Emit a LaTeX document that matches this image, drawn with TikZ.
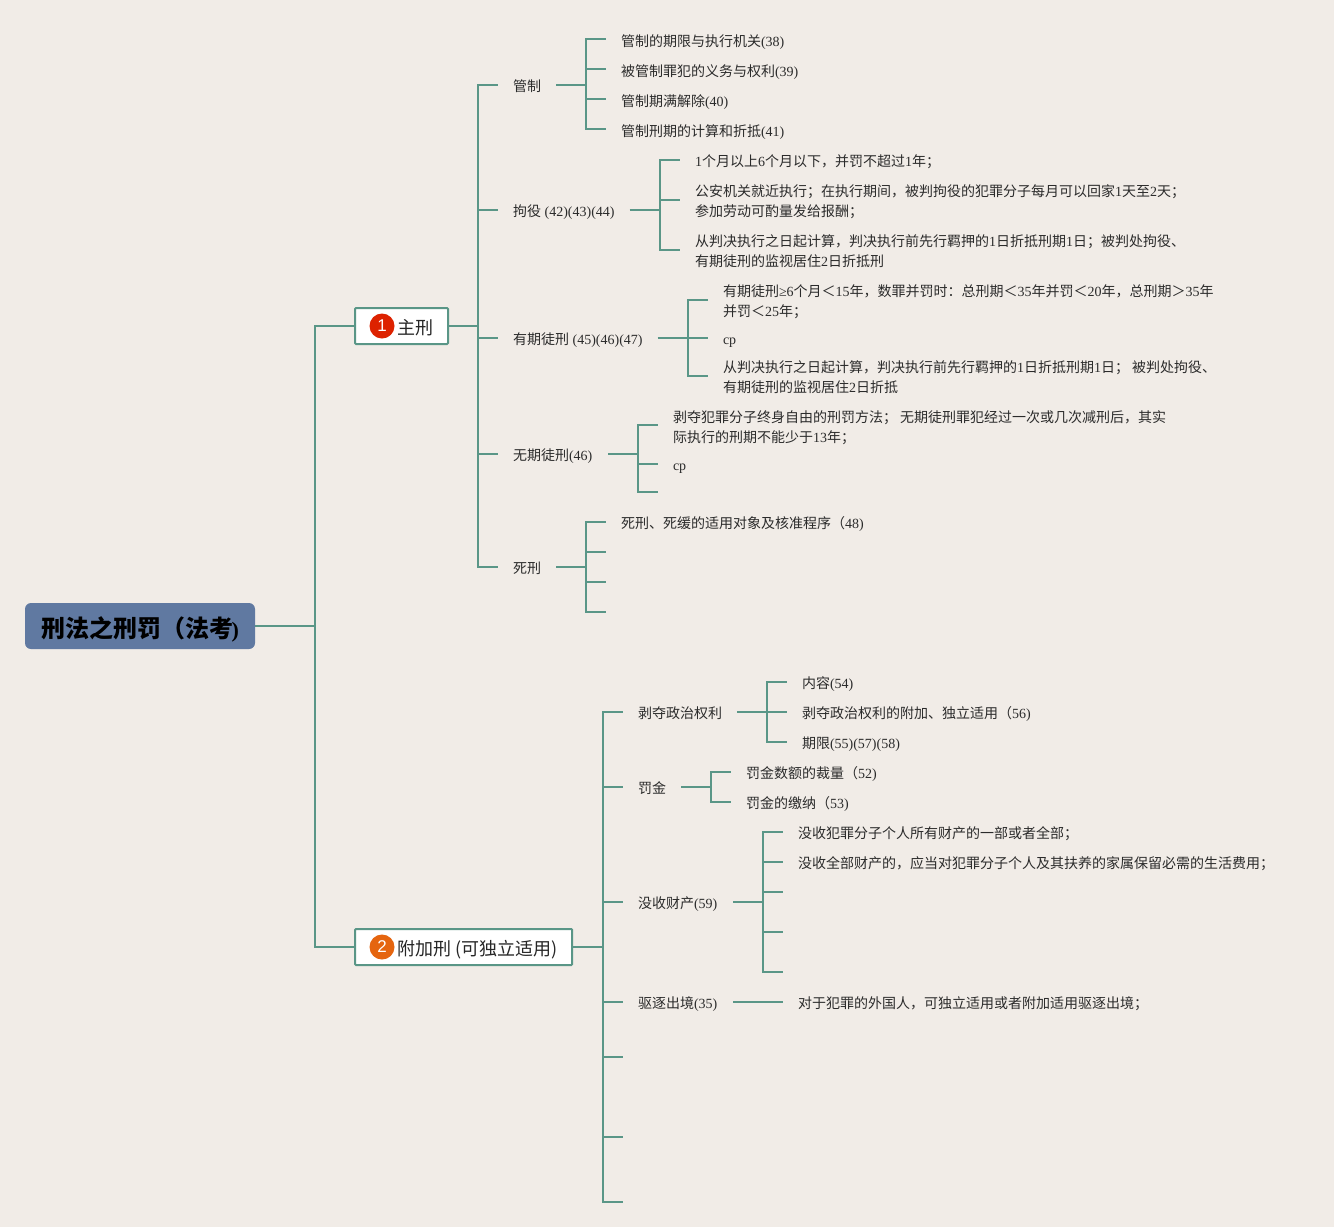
\documentclass[tikz,border=0pt]{standalone}
\usepackage{fontspec}
\setmainfont{Noto Sans CJK SC}
\newfontfamily\ltfont{Liberation Serif}
\newfontfamily\arfont{Liberation Sans}
\definecolor{paper}{HTML}{F1ECE7}
\definecolor{teal}{HTML}{5A9687}
\definecolor{rootblue}{HTML}{6079A1}
\definecolor{ink}{HTML}{2B2B2B}
\definecolor{redbadge}{HTML}{DD2200}
\definecolor{orangebadge}{HTML}{E5650F}
\newcommand\lt[1]{{\ltfont #1}}
% shifted text block: keeps the node centred on its connector
\newcommand\dn[2][3pt]{\raisebox{-#1}[\height][\depth]{\fontsize{14}{20}\selectfont\begin{tabular}{@{}l@{}}#2\end{tabular}}}
\newcommand\sink[2]{\raisebox{-#1}[\height][\depth]{#2}}
\tikzset{
  x=1pt,y=-1pt,
  conn/.style={draw=teal,line width=2pt,line cap=butt},
  leaf/.style={anchor=west,inner xsep=15pt,inner ysep=0pt,outer sep=0pt,text=ink},
  rootbox/.style={fill=rootblue,rounded corners=6pt,minimum width=230pt,minimum height=46pt,inner sep=0pt,outer sep=0pt,text=black,font=\fontsize{24}{28}\selectfont\bfseries},
  mainbox/.style={draw=teal,fill=white,line width=2pt,rounded corners=1pt,anchor=west,minimum height=36pt,inner xsep=15pt,inner ysep=0pt,outer sep=0pt,text=black!85,font=\fontsize{18}{22}\selectfont},
  badge/.style={circle,minimum size=25pt,inner sep=0pt,text=white,font=\arfont\fontsize{17}{20}\selectfont},
}
% \branch{bus x}{parent}{first child}{last child}{all children}
\newcommand\branch[5]{%
  \draw[conn] (#2.east) -- (#1,0 |- #2.east);
  \draw[conn,line cap=rect] (#1,0 |- #3.west) -- (#1,0 |- #4.west);
  \foreach \c in {#5}{\draw[conn] (#1,0 |- \c.west) -- (\c.west);}
}
\begin{document}
\begin{tikzpicture}
\useasboundingbox (0,0) rectangle (1334,1227);
\fill[paper] (0,0) rectangle (1334,1227);

\node[rootbox] (root) at (140,626) {\sink{3pt}{刑法之刑罚（法考\kern-1.5pt\lt{\fontsize{22}{26}\selectfont)}}};
\node[mainbox] (zhu) at (355,326) {\sink{2pt}{\hspace{27pt}主刑}};
\node[badge,fill=redbadge] (b1) at (382,326) {1};
\node[mainbox] (fu) at (355,947) {\sink{3pt}{\hspace{27pt}附加刑 (可独立适用)}};
\node[badge,fill=orangebadge] (b2) at (382,947) {2};

% level 2 under zhu
\node[leaf] (gz) at (498,85) {\dn[2pt]{管制}};
\node[leaf] (jy) at (498,210) {\dn[2pt]{拘役\hspace{3.6pt}\lt{(42)(43)(44)}}};
\node[leaf] (yq) at (498,338) {\dn[2pt]{有期徒刑\hspace{3.6pt}\lt{(45)(46)(47)}}};
\node[leaf] (wq) at (498,454) {\dn[2pt]{无期徒刑\lt{(46)}\kern1pt}};
\node[leaf] (sx) at (498,567) {\dn[2pt]{死刑}};

\node[leaf] (gz1) at (606,39) {\dn{管制的期限与执行机关\lt{(38)}}};
\node[leaf] (gz2) at (606,69) {\dn{被管制罪犯的义务与权利\lt{(39)}}};
\node[leaf] (gz3) at (606,99) {\dn{管制期满解除\lt{(40)}}};
\node[leaf] (gz4) at (606,129) {\dn{管制刑期的计算和折抵\lt{(41)}}};

\node[leaf] (jy1) at (680,160) {\dn[2pt]{\lt{1}个月以上\lt{6}个月以下，并罚不超过\lt{1}年；}};
\node[leaf] (jy2) at (680,200) {\dn[2pt]{公安机关就近执行；在执行期间，被判拘役的犯罪分子每月可以回家\lt{1}天至\lt{2}天；\\参加劳动可酌量发给报酬；}};
\node[leaf] (jy3) at (680,250) {\dn[2pt]{从判决执行之日起计算，判决执行前先行羁押的\lt{1}日折抵刑期\lt{1}日；被判处拘役、\\有期徒刑的监视居住\lt{2}日折抵刑}};

\node[leaf] (yq1) at (708,300) {\dn[2pt]{有期徒刑\lt{≥6}个月＜\lt{15}年，数罪并罚时：总刑期＜\lt{35}年并罚＜\lt{20}年，总刑期＞\lt{35}年\\并罚＜\lt{25}年；}};
\node[leaf] (yq2) at (708,338) {\dn[2pt]{\lt{cp}}};
\node[leaf] (yq3) at (708,376) {\dn[2pt]{从判决执行之日起计算，判决执行前先行羁押的\lt{1}日折抵刑期\lt{1}日； 被判处拘役、\\有期徒刑的监视居住\lt{2}日折抵}};

\node[leaf] (wq1) at (658,425) {\dn[3pt]{剥夺犯罪分子终身自由的刑罚方法； 无期徒刑罪犯经过一次或几次减刑后，其实\\际执行的刑期不能少于\lt{13}年；}};
\node[leaf] (wq2) at (658,464) {\dn[2pt]{\lt{cp}}};
\coordinate (wq3) at (658,492);

\node[leaf] (sx1) at (606,522) {\dn[2pt]{死刑、死缓的适用对象及核准程序（\lt{48)}}};
\coordinate (sx2) at (606,552);
\coordinate (sx3) at (606,582);
\coordinate (sx4) at (606,612);

% level 2 under fu
\node[leaf] (bd) at (623,712) {\dn[2pt]{剥夺政治权利}};
\node[leaf] (fj) at (623,787) {\dn[2pt]{罚金}};
\node[leaf] (ms) at (623,902) {\dn[2pt]{没收财产\lt{(59)}\kern1pt}};
\node[leaf] (qz) at (623,1002) {\dn[2pt]{驱逐出境\lt{(35)}\kern1pt}};
\coordinate (e1) at (623,1057);
\coordinate (e2) at (623,1137);
\coordinate (e3) at (623,1202);

\node[leaf] (bd1) at (787,682) {\dn[2pt]{内容\lt{(54)}}};
\node[leaf] (bd2) at (787,712) {\dn[2pt]{剥夺政治权利的附加、独立适用（\lt{56)}}};
\node[leaf] (bd3) at (787,742) {\dn[2pt]{期限\lt{(55)(57)(58)}}};
\node[leaf] (fj1) at (731,772) {\dn[2pt]{罚金数额的裁量（\lt{52)}}};
\node[leaf] (fj2) at (731,802) {\dn[2pt]{罚金的缴纳（\lt{53)}}};
\node[leaf] (ms1) at (783,832) {\dn[2pt]{没收犯罪分子个人所有财产的一部或者全部；}};
\node[leaf] (ms2) at (783,862) {\dn[2pt]{没收全部财产的，应当对犯罪分子个人及其扶养的家属保留必需的生活费用；}};
\coordinate (ms3) at (783,892);
\coordinate (ms4) at (783,932);
\coordinate (ms5) at (783,972);
\node[leaf] (qz1) at (783,1002) {\dn[2pt]{对于犯罪的外国人，可独立适用或者附加适用驱逐出境；}};

% connectors
\branch{315}{root}{zhu}{fu}{zhu,fu}
\branch{478}{zhu}{gz}{sx}{gz,jy,yq,wq,sx}
\branch{603}{fu}{bd}{e3}{bd,fj,ms,qz,e1,e2,e3}
\branch{586}{gz}{gz1}{gz4}{gz1,gz2,gz3,gz4}
\branch{660}{jy}{jy1}{jy3}{jy1,jy2,jy3}
\branch{688}{yq}{yq1}{yq3}{yq1,yq2,yq3}
\branch{638}{wq}{wq1}{wq3}{wq1,wq2,wq3}
\branch{586}{sx}{sx1}{sx4}{sx1,sx2,sx3,sx4}
\branch{767}{bd}{bd1}{bd3}{bd1,bd2,bd3}
\branch{711}{fj}{fj1}{fj2}{fj1,fj2}
\branch{763}{ms}{ms1}{ms5}{ms1,ms2,ms3,ms4,ms5}
\draw[conn] (qz.east) -- (qz1.west);
\end{tikzpicture}
\end{document}
